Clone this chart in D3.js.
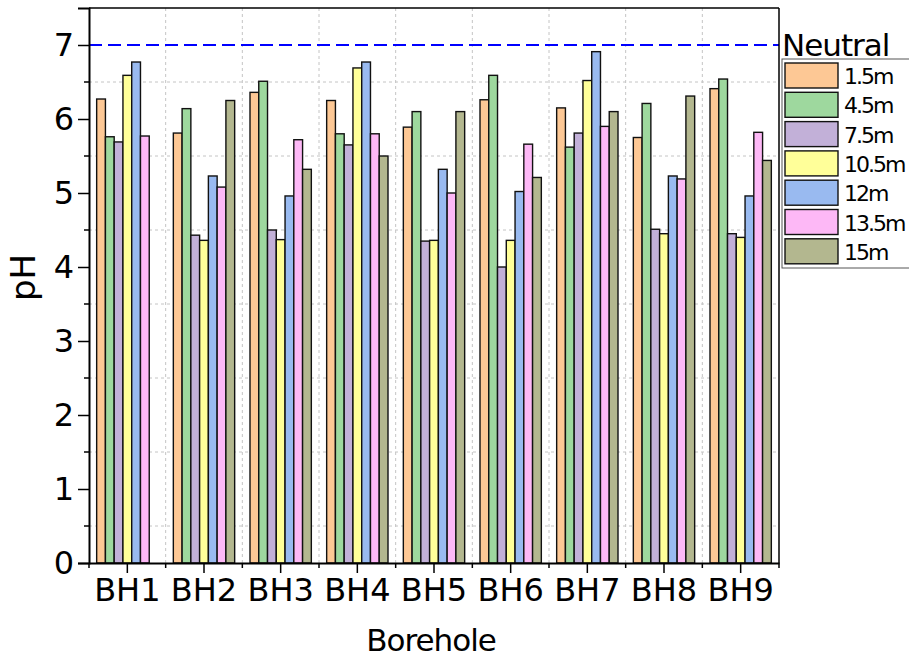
<!DOCTYPE html>
<html>
<head>
<meta charset="utf-8">
<script src="https://cdn.jsdelivr.net/npm/d3@7"></script>
<style>
  body { margin: 0; background: #fff; }
  #chart { width: 909px; height: 659px; }
  text { font-family: "DejaVu Sans", sans-serif; fill: #000; }
</style>
</head>
<body>
<div id="chart"></div>
<script>
//Datos
const boreholes = ['BH1','BH2','BH3','BH4','BH5','BH6','BH7','BH8','BH9'];
const depths = ['1.5m','4.5m','7.5m','10.5m','12m','13.5m','15m'];
const colors = ['#FDC895','#9ED89E','#C2B0D8','#FFFF99','#99BAF0','#FDB8F6','#B3B78F'];

//Valores de pH por profundidad (un valor por sondeo)
const ph_1_5  = [6.27, 5.81, 6.36, 6.25, 5.89, 6.26, 6.15, 5.75, 6.41];
const ph_4_5  = [5.76, 6.14, 6.51, 5.80, 6.10, 6.59, 5.62, 6.21, 6.54];
const ph_7_5  = [5.69, 4.43, 4.50, 5.65, 4.35, 4.00, 5.81, 4.51, 4.45];
const ph_10_5 = [6.59, 4.36, 4.37, 6.69, 4.36, 4.36, 6.52, 4.45, 4.40];
const ph_12   = [6.77, 5.23, 4.96, 6.77, 5.32, 5.02, 6.91, 5.23, 4.96];
const ph_13_5 = [5.77, 5.08, 5.72, 5.80, 5.00, 5.66, 5.90, 5.19, 5.82];
const ph_15   = [null, 6.25, 5.32, 5.50, 6.10, 5.21, 6.10, 6.31, 5.44];

const yTicks = [0,1,2,3,4,5,6,7];
const neutralPH = 7;

let series = [ph_1_5, ph_4_5, ph_7_5, ph_10_5, ph_12, ph_13_5, ph_15];

let rows = [];
series.forEach(function(vals, s) {
    vals.forEach(function(v, b) {
        if (v != null) rows.push({bh: boreholes[b], depth: depths[s], value: v});
    });
});

let margin = {top: 8, right: 130, bottom: 96, left: 89},
    width = 909 - margin.left - margin.right,
    height = 659 - margin.top - margin.bottom;

let svg = d3.select('#chart').append('svg')
    .attr('width', 909).attr('height', 659)
    .append('g')
    .attr('transform', 'translate(' + margin.left + ',' + margin.top + ')');

let x0 = d3.scaleBand().domain(boreholes).range([0, width]).padding(0);
let bw = x0.bandwidth();
let x1 = d3.scaleBand().domain(depths).range([bw * 0.1, bw * 0.9]).padding(0);
let y = d3.scaleLinear().domain([0, 7.5]).range([height, 0]);
let color = d3.scaleOrdinal().domain(depths).range(colors);

//Rejilla
let minorY = d3.range(0.5, 7.5, 1);
svg.append('g').selectAll('line').data(minorY).enter().append('line')
    .attr('x1', 0).attr('x2', width)
    .attr('y1', d => y(d)).attr('y2', d => y(d))
    .attr('stroke', '#c4c4c4').attr('stroke-dasharray', '3,3');

let bounds = boreholes.slice(1).map(d => x0(d));
svg.append('g').selectAll('line').data(bounds).enter().append('line')
    .attr('x1', d => d).attr('x2', d => d)
    .attr('y1', 0).attr('y2', height)
    .attr('stroke', '#c4c4c4').attr('stroke-dasharray', '3,3');

//Barras
svg.append('g').selectAll('rect').data(rows).enter().append('rect')
    .attr('x', d => x0(d.bh) + x1(d.depth))
    .attr('y', d => y(d.value))
    .attr('width', x1.bandwidth())
    .attr('height', d => y(0) - y(d.value))
    .attr('fill', d => color(d.depth))
    .attr('stroke', '#111').attr('stroke-width', 1.4);

//Línea neutra
svg.append('line')
    .attr('x1', 0).attr('x2', width)
    .attr('y1', y(neutralPH)).attr('y2', y(neutralPH))
    .attr('stroke', '#0000ff').attr('stroke-width', 2)
    .attr('stroke-dasharray', '13,6');

//Marco
svg.append('line').attr('x1', 0).attr('x2', width).attr('y1', 0).attr('y2', 0)
    .attr('stroke', '#000').attr('stroke-width', 1.5);
svg.append('line').attr('x1', width).attr('x2', width).attr('y1', 0).attr('y2', height)
    .attr('stroke', '#000').attr('stroke-width', 1.5);

//Ejes
let yAxis = svg.append('g')
    .call(d3.axisLeft(y).tickValues(yTicks).tickSize(11).tickPadding(4).tickFormat(d3.format('d')));
yAxis.selectAll('text').style('font-size', '32px');
yAxis.select('.domain').attr('stroke-width', 2);
yAxis.selectAll('.tick line').attr('stroke-width', 1.5);
svg.append('g').selectAll('line').data(minorY).enter().append('line')
    .attr('x1', -5).attr('x2', 0).attr('y1', d => y(d)).attr('y2', d => y(d))
    .attr('stroke', '#000').attr('stroke-width', 1.5);

let xAxis = svg.append('g')
    .attr('transform', 'translate(0,' + height + ')')
    .call(d3.axisBottom(x0).tickSize(10).tickPadding(5).tickSizeOuter(0));
xAxis.selectAll('text').style('font-size', '32px');
xAxis.select('.domain').attr('stroke-width', 2);
xAxis.selectAll('.tick line').attr('stroke-width', 1.5);
svg.append('g').selectAll('line').data(bounds.concat([0, width])).enter().append('line')
    .attr('x1', d => d).attr('x2', d => d).attr('y1', height).attr('y2', height + 5)
    .attr('stroke', '#000').attr('stroke-width', 1.5);

//Títulos
svg.append('text')
    .attr('x', x0.range()[1] / 2 - 3).attr('y', height + 88)
    .attr('text-anchor', 'middle').style('font-size', '31px').style('letter-spacing', '-1px')
    .text('Borehole');

svg.append('text')
    .attr('transform', 'translate(' + (-54) + ',' + (height / 2 - 8) + ') rotate(-90)')
    .attr('text-anchor', 'middle').style('font-size', '34px')
    .text('pH');

//Leyenda
let legend = svg.append('g').attr('transform', 'translate(' + (width + 3) + ',0)');
legend.append('text').attr('x', 0).attr('y', 48)
    .style('font-size', '31px').style('letter-spacing', '-1px')
    .text('Neutral');
legend.append('rect').attr('x', 0).attr('y', 51).attr('width', 140).attr('height', 209)
    .attr('fill', '#fff').attr('stroke', '#555').attr('stroke-width', 1);
let items = legend.selectAll('.item').data(depths).enter().append('g')
    .attr('transform', (d, i) => 'translate(3,' + (55 + i * 29.3) + ')');
items.append('rect').attr('width', 53).attr('height', 25)
    .attr('fill', d => color(d)).attr('stroke', '#111').attr('stroke-width', 1.4);
items.append('text').attr('x', 59).attr('y', 21)
    .style('font-size', '22px').style('letter-spacing', '-2px')
    .text(d => d);
</script>
</body>
</html>
